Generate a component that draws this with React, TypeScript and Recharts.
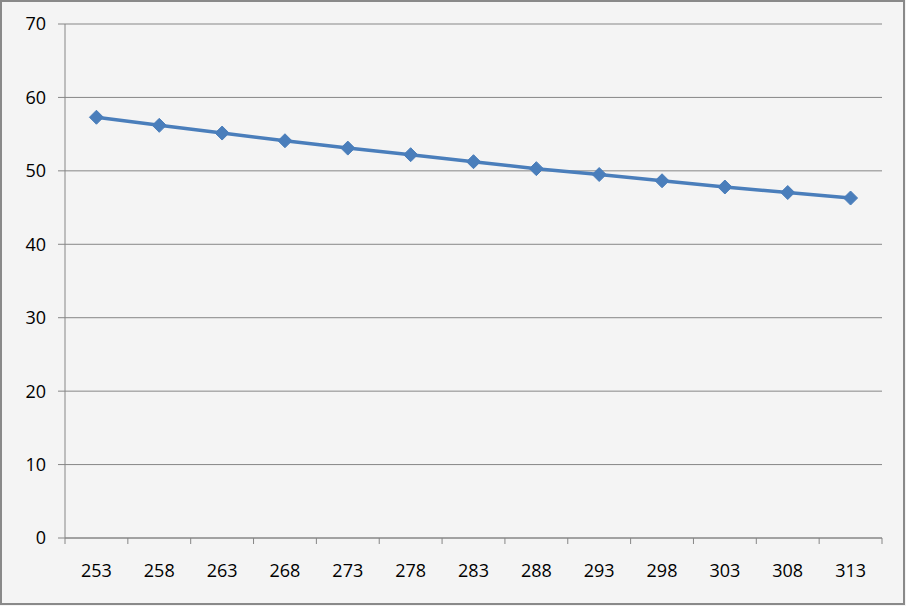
import React from 'react';
import { LineChart, Line, XAxis, YAxis, CartesianGrid } from 'recharts';

const categories = ['253', '258', '263', '268', '273', '278', '283', '288', '293', '298', '303', '308', '313'];
const values = [57.3, 56.2, 55.15, 54.1, 53.1, 52.2, 51.25, 50.3, 49.5, 48.65, 47.8, 47.05, 46.3];
const yTicks = [0, 10, 20, 30, 40, 50, 60, 70];

const data = categories.map((c, i) => ({ name: c, value: values[i] }));

const GRID = '#868686';
const BLUE = '#4a7ebb';
const FONT = '"Open Sans", "Noto Sans", sans-serif';

const WIDTH = 906;
const HEIGHT = 606;
const M = { top: 24, right: 24, bottom: 0, left: 0 };
const Y_W = 65;
const X_H = 68;
const HALF_BAND = (WIDTH - M.right - Y_W) / categories.length / 2;

const XTick = (props: any) => {
    const { x, y, payload, index } = props;
    const last = index === categories.length - 1;
    return (
        <g>
            <line x1={x - HALF_BAND} y1={y} x2={x - HALF_BAND} y2={y + 6} stroke={GRID} strokeWidth={1} />
            {last && <line x1={x + HALF_BAND} y1={y} x2={x + HALF_BAND} y2={y + 6} stroke={GRID} strokeWidth={1} />}
            <text x={x} y={y + 39} textAnchor="middle" fontSize={18} fontFamily={FONT} fill="#000">
                {payload.value}
            </text>
        </g>
    );
};

const Diamond = (props: any) => {
    const { cx, cy } = props;
    if (cx == null || cy == null) return null;
    const r = 7;
    return (
        <polygon
            points={`${cx},${cy - r} ${cx + r},${cy} ${cx},${cy + r} ${cx - r},${cy}`}
            fill={BLUE}
            stroke={BLUE}
            strokeWidth={1}
        />
    );
};

const App: React.FC = () => {
    return (
        <div style={{ position: 'absolute', top: 0, left: 0, width: WIDTH, height: HEIGHT, background: '#f4f4f4' }}>
            <LineChart width={WIDTH} height={HEIGHT} data={data} margin={M}>
                <CartesianGrid vertical={false} stroke={GRID} strokeWidth={1} />
                <XAxis
                    dataKey="name"
                    height={X_H}
                    stroke={GRID}
                    tickLine={false}
                    tickSize={0}
                    tickMargin={0}
                    interval={0}
                    padding={{ left: HALF_BAND, right: HALF_BAND }}
                    tick={<XTick />}
                    axisLine={{ stroke: GRID }}
                />
                <YAxis
                    width={Y_W}
                    domain={[0, 70]}
                    ticks={yTicks}
                    interval={0}
                    tickSize={7}
                    tickMargin={12}
                    tickLine={{ stroke: GRID }}
                    axisLine={{ stroke: GRID }}
                    tick={{ fontSize: 18, fontFamily: FONT, fill: '#000' }}
                />
                <Line
                    type="linear"
                    dataKey="value"
                    stroke={BLUE}
                    strokeWidth={3.5}
                    dot={<Diamond />}
                    activeDot={false}
                    isAnimationActive={false}
                />
            </LineChart>
            <div
                style={{
                    position: 'absolute',
                    top: 0,
                    left: 0,
                    width: 905,
                    height: 605,
                    boxSizing: 'border-box',
                    border: '2px solid #898989',
                    pointerEvents: 'none',
                }}
            />
        </div>
    );
};

export default App;
